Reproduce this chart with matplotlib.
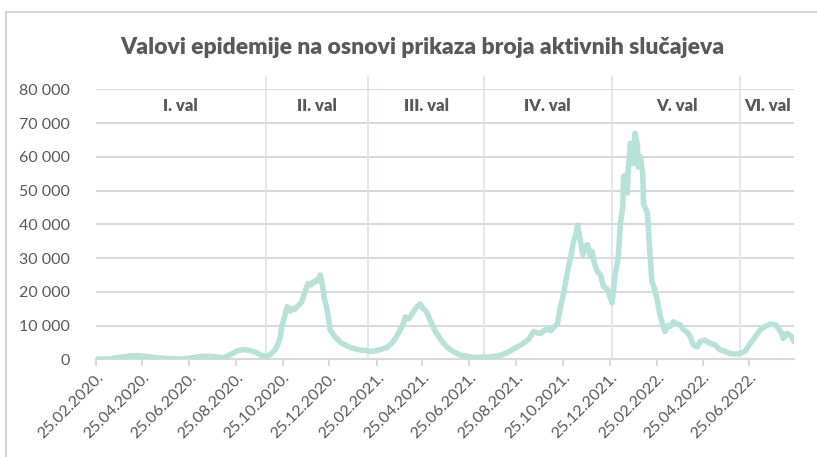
import numpy as np
import matplotlib
matplotlib.use("Agg")
import matplotlib.pyplot as plt
import matplotlib.dates as mdates
from matplotlib.patches import Rectangle

# condensed face if present, otherwise a fairly narrow one
plt.rcParams['font.family'] = ['DejaVu Sans Condensed', 'Lato', 'DejaVu Sans']

title = "Valovi epidemije na osnovi prikaza broja aktivnih slučajeva"
start = np.datetime64('2020-02-25')

# days since 25.02.2020 and number of active cases
days = [0, 9, 18, 31, 44, 53, 64, 73, 83, 94, 106, 119, 129, 139, 149, 158,
        166, 175, 184, 192, 201, 209, 216, 223, 228, 233, 237, 240, 242, 246,
        249, 253, 255, 259, 262, 266, 268, 272, 276, 280, 283, 285, 288, 291,
        292, 295, 297, 301, 305, 311, 319, 325, 331, 338, 344, 351, 357, 366,
        373, 379, 387, 392, 396, 400, 403, 407, 409, 413, 418, 422, 426, 429,
        433, 435, 442, 451, 459, 467, 474, 484, 491, 500, 513, 527, 536, 543,
        550, 556, 563, 570, 575, 579, 584, 588, 592, 596, 601, 605, 609, 614,
        618, 622, 625, 627, 631, 634, 636, 640, 644, 646, 649, 653, 657, 661,
        665, 668, 672, 676, 680, 683, 686, 687, 689, 692, 693, 696, 699, 701,
        702, 705, 706, 709, 712, 713, 718, 722, 724, 728, 731, 735, 739, 741,
        745, 748, 752, 756, 761, 765, 769, 774, 778, 783, 787, 793, 800, 806,
        813, 819, 826, 832, 839, 846, 852, 859, 865, 872, 878, 885, 889, 893,
        895, 900, 906, 909]
active = [100, 100, 150, 600, 1000, 1100, 900, 600, 350, 200, 100, 200, 600,
          900, 850, 700, 400, 1400, 2500, 2900, 2600, 2000, 1100, 900, 1600,
          2800, 4500, 6700, 9700, 13000, 15600, 14300, 15000, 14800, 15600,
          16500, 17000, 20000, 22500, 22000, 23000, 22800, 23700, 23200, 25000,
          22000, 18500, 14600, 8700, 6700, 4900, 4200, 3500, 3100, 2750, 2600,
          2300, 2600, 3100, 3500, 5200, 7000, 8700, 10500, 12600, 12000, 12500,
          14000, 15600, 16400, 15000, 14600, 12800, 11600, 8200, 5200, 3250,
          2100, 1300, 900, 600, 600, 700, 1200, 2000, 3000, 3800, 4700, 5800,
          8200, 7800, 7700, 8600, 9000, 8500, 9400, 10500, 15600, 19600, 26000,
          30000, 35000, 37000, 39800, 35000, 31000, 32500, 34000, 30500, 32000,
          28500, 26000, 25000, 21500, 21000, 19500, 16700, 25000, 30000, 40400,
          45200, 54100, 54500, 49300, 55600, 64000, 58000, 62000, 67000, 63500,
          57000, 60000, 55000, 46200, 43300, 29400, 23000, 20500, 17400, 12600,
          9500, 8200, 10000, 9800, 11100, 10500, 10200, 8700, 8200, 6700, 4200,
          3700, 5300, 5700, 4700, 4300, 2750, 2400, 1700, 1600, 1700, 2500,
          4700, 6800, 8700, 9800, 10400, 10200, 9000, 7700, 6200, 7700, 6700,
          5300]

# wave boundaries (days since start) and wave names
wave_breaks = [221, 354, 505, 672, 839]
wave_names = ["I. val", "II. val", "III. val", "IV. val", "V. val", "VI. val"]

tick_dates = ['2020-02-25', '2020-04-25', '2020-06-25', '2020-08-25',
              '2020-10-25', '2020-12-25', '2021-02-25', '2021-04-25',
              '2021-06-25', '2021-08-25', '2021-10-25', '2021-12-25',
              '2022-02-25', '2022-04-25', '2022-06-25']
y_ticks = [0, 10000, 20000, 30000, 40000, 50000, 60000, 70000, 80000]

text_col = '#595959'
grid_col = '#d9d9d9'
line_col = '#b8e2d8'

dates = start + np.array(days).astype('timedelta64[D]')

fig = plt.figure(figsize=(8.17, 4.57), dpi=100)
fig.patches.append(Rectangle((6 / 817, -0.1), 2, 1.1 - 12.5 / 457,
                             transform=fig.transFigure, fill=False,
                             ec='#d4d4d4', lw=1.5))
ax = fig.add_axes([96 / 817, 1 - 359.3 / 457, 698 / 817, 270 / 457])

ax.plot(dates, active, color=line_col, lw=4, solid_capstyle='round',
        solid_joinstyle='round', zorder=3)

ax.set_xlim(dates[0], dates[-1])
ax.set_ylim(0, 80000)

# wave separators and labels
bounds = [0] + wave_breaks + [days[-1]]
ax.vlines(start + np.array(wave_breaks).astype('timedelta64[D]'), 0, 84000,
          color='#dce3ea', lw=1.2, clip_on=False, zorder=1)
for i, name in enumerate(wave_names):
    mid = start + np.timedelta64(int(round((bounds[i] + bounds[i + 1]) / 2)), 'D')
    ax.text(mid, 75000, name, ha='center', va='center', fontsize=12,
            fontweight='heavy', color=text_col)

ax.set_yticks(y_ticks)
ax.set_yticklabels([f"{v:,}".replace(',', ' ') for v in y_ticks])
ax.yaxis.grid(True, color=grid_col, lw=1.5)
ax.set_axisbelow(True)

tk = [np.datetime64(d) for d in tick_dates]
ax.set_xticks(tk)
ax.xaxis.set_major_formatter(mdates.DateFormatter('%d.%m.%Y.'))
for lab in ax.get_xticklabels():
    lab.set_rotation(45)
    lab.set_ha('right')
    lab.set_va('top')
    lab.set_rotation_mode('anchor')

for s in ['top', 'right', 'left']:
    ax.spines[s].set_visible(False)
ax.spines['bottom'].set_color(grid_col)
ax.spines['bottom'].set_linewidth(1.5)
ax.tick_params(axis='x', direction='out', length=5, width=1.5, color=grid_col,
               labelsize=11.5, labelcolor=text_col, pad=3)
ax.tick_params(axis='y', length=0, labelsize=11.5, labelcolor=text_col, pad=19)

fig.text(0.517, 0.897, title, ha='center', va='center', fontsize=16.5,
         fontweight='heavy', color=text_col)

fig.savefig('out.png', dpi=100)
